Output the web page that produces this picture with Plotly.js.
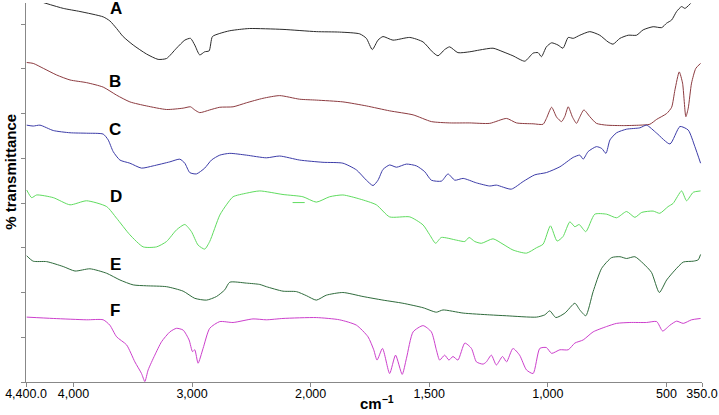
<!DOCTYPE html>
<html><head><meta charset="utf-8">
<script src="https://cdn.plot.ly/plotly-3.0.1.min.js"></script>
<style>html,body{margin:0;padding:0;background:#fff}#chart{width:719px;height:415px}</style>
</head><body><div id="chart"></div>
<script>
// wavenumbers (cm-1) and % transmittance (offset stacked)
const wnA = [4254,4086,3945,3749,3693,3636,3581,3496,3384,3286,3215,3131,3061,3013,2977,2935,2893,2856,2828,2766,2682,2598,2514,2233,1976,1878,1793,1765,1740,1716,1695,1653,1582,1526,1487,1463,1435,1414,1379,1329,1287,1231,1189,1147,1097,1062,1041,1027,1006,984,957,936,914,893,865,823,781,746,725,696,661,626,598,556,520,499,478,457,436,422,398];
const tA = [84.8,83.5,82.8,81.6,80.7,79.0,77.2,75.3,73.3,72.1,72.3,74.6,76.4,76.8,75.3,73.1,73.8,74.0,77.2,77.9,78.5,78.8,79.0,78.8,78.3,78.2,77.8,76.8,74.3,76.4,77.2,76.4,77.0,76.0,73.8,72.9,74.3,74.9,73.6,73.8,74.2,74.6,73.8,72.9,71.7,73.5,73.6,72.7,74.9,75.8,75.3,74.6,77.0,76.8,77.5,78.3,77.5,76.0,75.5,76.8,77.5,77.5,78.7,79.4,79.2,80.2,80.9,82.8,83.9,83.5,84.6];

const wnB = [4394,4339,4254,4141,4029,3889,3749,3636,3524,3384,3215,3075,3013,2977,2935,2851,2766,2654,2541,2402,2261,2093,1976,1864,1765,1667,1568,1491,1414,1329,1245,1174,1132,1062,1020,1006,984,963,942,928,914,896,879,868,848,823,795,752,682,612,570,541,499,478,464,446,432,418,408,394,376,356];
const tB = [71.4,71.2,70.1,68.6,67.5,66.9,65.9,64.1,62.6,61.7,60.9,61.2,61.5,60.8,60.2,60.8,61.4,61.5,62.4,63.4,64.0,63.2,63.0,62.6,61.7,60.6,59.7,58.2,57.9,57.9,57.8,58.9,57.9,57.7,57.6,58.9,61.4,59.2,58.2,59.4,61.5,59.2,57.8,58.9,60.8,59.3,57.8,57.4,57.3,57.4,57.6,58.7,60.0,61.4,65.3,69.3,66.8,59.3,61.2,66.8,70.1,71.2];

const wnC = [4394,4339,4282,4170,4029,3889,3749,3707,3665,3608,3524,3426,3328,3187,3103,3061,3019,2963,2893,2836,2766,2682,2541,2373,2261,2093,1948,1864,1807,1765,1737,1716,1695,1667,1638,1596,1554,1519,1491,1448,1421,1392,1357,1301,1245,1217,1154,1104,1055,1006,949,893,865,851,830,795,773,755,738,710,668,612,584,541,485,443,408,380,356];
const tC = [57.4,57.2,57.4,56.2,55.7,55.6,55.4,54.1,51.5,49.6,48.9,47.8,48.3,49.2,49.8,48.9,46.8,46.5,47.8,49.6,50.7,51.1,50.7,50.1,50.5,49.6,49.1,48.9,47.4,45.1,43.9,45.1,47.5,48.5,48.0,48.7,48.3,47.0,45.1,44.9,46.5,45.1,45.5,44.5,43.8,44.0,43.1,44.8,46.3,46.8,48.1,50.2,50.7,49.8,51.5,52.6,52.2,51.1,54.1,55.7,56.5,56.8,57.4,55.6,53.2,57.1,56.3,52.6,48.9];

const wnD = [4394,4352,4310,4170,4029,3889,3720,3636,3524,3412,3299,3215,3131,3061,3005,2949,2893,2851,2766,2710,2654,2541,2429,2233,2065,1976,1920,1864,1793,1723,1667,1582,1526,1498,1473,1449,1385,1350,1332,1308,1280,1231,1189,1147,1090,1048,1020,989,961,936,907,886,868,840,802,752,710,668,633,604,556,528,493,472,436,415,387,356];
const tD = [42.9,41.2,41.8,41.2,39.6,40.5,39.2,36.6,32.9,30.2,30.2,31.4,34.0,35.2,33.6,30.6,29.7,31.4,37.3,39.6,41.4,42.2,42.7,41.9,41.4,40.2,41.4,41.8,40.9,39.6,36.9,36.9,35.1,32.9,31.0,32.3,31.7,31.4,32.3,31.4,31.0,32.0,30.8,29.5,28.8,30.0,30.8,34.9,31.5,32.5,35.8,34.7,35.2,33.6,37.5,37.5,36.7,38.1,36.8,37.9,38.2,37.7,39.2,39.9,42.7,40.5,42.4,42.7];
const wnDdash = [2152,2050];
const tDdash = [40.1,40.1];

const wnE = [4394,4339,4226,4086,3987,3861,3720,3608,3496,3384,3215,3075,2977,2878,2794,2724,2682,2541,2429,2373,2233,2120,2036,1976,1934,1864,1779,1695,1611,1526,1470,1442,1357,1245,1174,1048,1013,992,966,928,886,865,840,809,773,731,696,668,633,598,563,530,499,464,429,387,366,356];
const tE = [28.2,27.0,26.9,25.8,24.8,25.3,24.3,22.8,21.7,21.5,21.3,20.3,18.7,18.3,19.1,20.6,22.3,22.1,21.8,21.3,20.3,20.2,19.3,18.3,19.4,20.0,19.1,18.3,17.6,16.6,15.6,16.1,15.4,15.0,14.8,14.5,15.0,15.9,14.4,15.4,17.6,16.1,14.8,20.2,25.4,27.8,28.0,27.6,28.0,26.5,24.5,20.0,22.8,25.0,26.8,27.0,27.3,28.5];

const wnF = [4394,4170,3889,3749,3693,3636,3552,3482,3426,3398,3370,3314,3257,3187,3131,3075,3025,2996,2977,2949,2907,2851,2766,2654,2486,2373,2233,1976,1878,1807,1758,1734,1720,1697,1667,1642,1614,1596,1568,1526,1491,1470,1456,1435,1417,1400,1379,1350,1322,1301,1273,1259,1238,1217,1191,1174,1147,1119,1090,1062,1034,1006,984,949,914,886,851,809,752,710,654,584,541,516,485,457,429,394,356];
const tF = [14.5,14.2,13.9,13.9,12.7,10.1,8.3,4.5,1.9,0.1,2.7,6.0,9.0,11.2,12.0,11.6,9.4,6.8,7.2,4.2,7.5,12.0,13.5,13.3,14.1,13.9,14.2,14.4,13.9,12.7,10.1,7.2,4.9,7.5,1.9,6.0,1.7,5.3,11.2,12.6,11.2,7.2,4.9,6.0,4.9,5.7,4.9,8.7,7.5,4.5,4.0,4.5,6.0,3.8,5.7,4.5,7.5,6.0,2.7,1.9,7.5,7.7,6.4,7.2,7.2,8.7,9.4,11.2,12.4,13.1,13.3,13.3,13.5,11.4,12.7,13.6,13.1,13.9,14.2];

const tickWn = [4400,4000,3000,2000,1500,1000,500,350];
const tickText = ['4,400.0','4,000','3,000','2,000','1,500','1,000','500','350.0'];
const yTicks = [0,10,20,30,40,50,60,70,80];
const labels = ['A','B','C','D','E','F'];

// split scale: 4400-2000 at one scale, 2000-350 at double scale
function u(w){ return w >= 2000 ? 4400 - w : 2400 + 2*(2000 - w); }

const FONT = 'Arial, "Liberation Sans", Helvetica, sans-serif';
function tr(wn, t, color){
  return {x: wn.map(u), y: t, mode:'lines', type:'scatter',
    line:{color:color, width:1, shape:'spline', smoothing:0.6},
    hoverinfo:'skip', showlegend:false};
}
const data = [
  tr(wnA, tA, '#2b2b2b'),
  tr(wnB, tB, '#8c3b40'),
  tr(wnC, tC, '#3c3ca8'),
  tr(wnD, tD, '#5fdc5f'),
  tr(wnDdash, tDdash, '#5fdc5f'),
  tr(wnE, tE, '#2f6b3c'),
  tr(wnF, tF, '#cc3fcc')
];

const labelPos = [[0.133,0.9855],[0.132,0.794],[0.131,0.666],[0.133,0.489],[0.132,0.309],[0.132,0.189]];
const annotations = labels.map((s,i)=>({text:'<b>'+s+'</b>', xref:'paper', yref:'paper',
  x:labelPos[i][0], y:labelPos[i][1], xanchor:'center', yanchor:'middle', showarrow:false,
  font:{family:FONT, size:17, color:'#000'}}));
annotations.push({text:'<b>% transmittance</b>', xref:'paper', yref:'paper', x:-0.022, y:0.555,
  xanchor:'center', yanchor:'middle', textangle:-90, showarrow:false, font:{family:FONT, size:15, color:'#000'}});
annotations.push({text:'<b>cm<sup>−1</sup></b>', xref:'paper', yref:'paper', x:0.519, y:-0.055,
  xanchor:'center', yanchor:'middle', showarrow:false, font:{family:FONT, size:15, color:'#000'}});

const layout = {
  width:719, height:415,
  margin:{l:26, r:17, t:3, b:33, pad:0},
  paper_bgcolor:'#fff', plot_bgcolor:'#fff',
  showlegend:false,
  xaxis:{range:[0,5700], tickmode:'array', tickvals:tickWn.map(u), ticktext:tickText,
    ticks:'outside', ticklen:4, tickcolor:'#888', showline:true, linecolor:'#888', linewidth:1,
    ticklabelstandoff:-4,
    showgrid:false, zeroline:false, tickfont:{family:FONT, size:12.5, color:'#000'}, fixedrange:true},
  yaxis:{range:[0,84.7], tickmode:'array', tickvals:yTicks, showticklabels:false,
    ticks:'outside', ticklen:4, tickcolor:'#888', showline:true, linecolor:'#888', linewidth:1,
    showgrid:false, zeroline:false, fixedrange:true},
  annotations:annotations
};
Plotly.newPlot('chart', data, layout, {displayModeBar:false, staticPlot:true});
</script>
</body></html>
